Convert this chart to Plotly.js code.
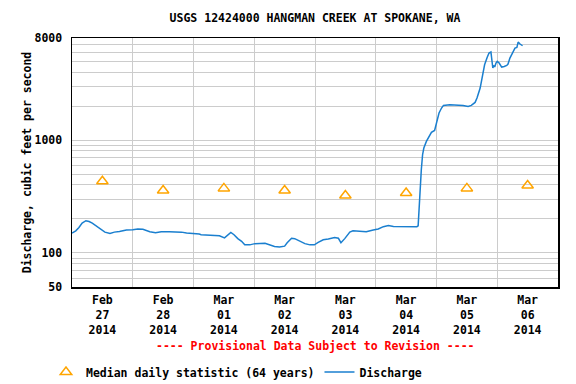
<!DOCTYPE html>
<html>
<head>
<meta charset="utf-8">
<script src="https://cdn.plot.ly/plotly-3.0.1.min.js"></script>
<style>html,body{margin:0;padding:0;background:#fff;}#chart{width:576px;height:384px;}</style>
</head>
<body>
<div id="chart"></div>
<script>
// Median daily statistic (64 years), plotted at noon of each day
var medianDates = ['2014-02-27 12:00','2014-02-28 12:00','2014-03-01 12:00','2014-03-02 12:00','2014-03-03 12:00','2014-03-04 12:00','2014-03-05 12:00','2014-03-06 12:00'];
var medianValues = [432, 358, 373, 358, 323, 340, 373, 396];

// Discharge (cubic feet per second)
var dischargeTimes = [
'2014-02-27 00:00','2014-02-27 01:30','2014-02-27 02:45','2014-02-27 04:00','2014-02-27 05:30','2014-02-27 06:45','2014-02-27 08:00','2014-02-27 09:30','2014-02-27 11:15','2014-02-27 13:00','2014-02-27 15:00','2014-02-27 16:45','2014-02-27 18:45','2014-02-27 21:30',
'2014-02-28 00:00','2014-02-28 02:00','2014-02-28 04:00','2014-02-28 06:45','2014-02-28 09:00','2014-02-28 11:15','2014-02-28 14:30','2014-02-28 19:15','2014-02-28 21:15','2014-02-28 23:45',
'2014-03-01 02:15','2014-03-01 03:00','2014-03-01 08:30','2014-03-01 10:15','2014-03-01 12:15','2014-03-01 13:45','2014-03-01 14:45','2014-03-01 16:00','2014-03-01 17:30','2014-03-01 19:00','2014-03-01 20:15','2014-03-01 22:15',
'2014-03-02 00:15','2014-03-02 04:15','2014-03-02 06:00','2014-03-02 08:00','2014-03-02 10:00','2014-03-02 12:00','2014-03-02 13:00','2014-03-02 14:45','2014-03-02 16:00','2014-03-02 18:00','2014-03-02 20:00','2014-03-02 22:00','2014-03-02 23:45',
'2014-03-03 01:15','2014-03-03 03:15','2014-03-03 05:15','2014-03-03 07:45','2014-03-03 09:15','2014-03-03 10:15','2014-03-03 11:45','2014-03-03 13:45','2014-03-03 15:00','2014-03-03 17:45','2014-03-03 20:15','2014-03-03 23:00',
'2014-03-04 01:00','2014-03-04 03:00','2014-03-04 05:00','2014-03-04 07:00','2014-03-04 10:45','2014-03-04 14:15','2014-03-04 16:15','2014-03-04 16:45','2014-03-04 17:15','2014-03-04 17:45','2014-03-04 18:00','2014-03-04 18:30','2014-03-04 19:00','2014-03-04 20:00','2014-03-04 21:00','2014-03-04 22:00','2014-03-04 23:15',
'2014-03-05 00:00','2014-03-05 01:00','2014-03-05 02:00','2014-03-05 02:45','2014-03-05 05:15','2014-03-05 08:00','2014-03-05 10:30','2014-03-05 12:30','2014-03-05 13:45','2014-03-05 15:15','2014-03-05 16:00','2014-03-05 17:15','2014-03-05 18:15','2014-03-05 19:00','2014-03-05 20:00','2014-03-05 20:45','2014-03-05 21:30','2014-03-05 21:45','2014-03-05 22:15','2014-03-05 22:45','2014-03-05 23:00','2014-03-05 23:30',
'2014-03-06 00:00','2014-03-06 00:45','2014-03-06 01:45','2014-03-06 02:45','2014-03-06 03:45','2014-03-06 04:15','2014-03-06 05:00','2014-03-06 06:00','2014-03-06 07:00','2014-03-06 07:45','2014-03-06 08:15','2014-03-06 09:00','2014-03-06 10:00'
];
var dischargeValues = [
150,157,168,184,193,190,184,174,163,153,149,153,155,160,
161,163,162,154,151,154,154,153,150,149,
147,145,143,142,136,147,152,145,134,127,118,118,
121,122,118,114,113,115,123,135,134,128,121,118,118,
124,131,133,137,135,123,134,153,157,155,154,160,
163,171,175,172,171,170,171,174,286,363,546,741,850,972,1076,1168,1216,
1414,1734,1920,2024,2052,2040,2024,1983,2024,2152,2354,2885,3784,4637,5383,5888,6010,5317,4339,4573,4426,4801,
4962,4801,4426,4480,4573,4706,5317,5888,6518,6600,7365,7073,6831
];

// Axis tick / grid values
var yGridValues = [50,60,70,80,90,100,200,300,400,500,600,700,800,900,1000,2000,3000,4000,5000,6000,7000,8000];
var yLabelValues = [50,100,1000,8000];
var xRange = ['2014-02-27 00:00','2014-03-07 00:00'];

var titleText = 'USGS 12424000 HANGMAN CREEK AT SPOKANE, WA';
var yTitleText = 'Discharge, cubic feet per second';
var provisionalText = '---- Provisional Data Subject to Revision ----';

var FONT = '"DejaVu Sans Mono", "Liberation Mono", monospace';

var yTickText = yGridValues.map(function(v){ return yLabelValues.indexOf(v) >= 0 ? String(v) : ''; });

var traces = [
  {
    type: 'scatter', mode: 'markers', name: 'Median daily statistic (64 years)',
    x: medianDates, y: medianValues,
    marker: {symbol: 'triangle-up-open', size: 10, color: '#FFA500', line: {width: 1.5, color: '#FFA500'}},
    hoverinfo: 'skip'
  },
  {
    type: 'scatter', mode: 'lines', name: 'Discharge',
    x: dischargeTimes, y: dischargeValues,
    line: {color: '#1a7fcf', width: 1.5},
    hoverinfo: 'skip'
  }
];

var layout = {
  width: 576, height: 384,
  margin: {l: 72, r: 18, t: 38, b: 97, autoexpand: false},
  paper_bgcolor: '#ffffff', plot_bgcolor: '#ffffff',
  font: {family: FONT, size: 11.5, color: '#000000', weight: 'bold'},
  title: {text: titleText, x: 0.5, xref: 'paper', xanchor: 'center', y: 1 - 18/384, yref: 'container', yanchor: 'middle',
          font: {family: FONT, size: 11.5, color: '#000', weight: 'bold'}},
  showlegend: true,
  legend: {orientation: 'h', x: 46/576, xanchor: 'left', xref: 'container', y: 1 - 372/384, yref: 'container', yanchor: 'middle',
           font: {family: FONT, size: 11.5, color: '#000', weight: 'bold'}, bgcolor: 'rgba(0,0,0,0)', traceorder: 'normal'},
  xaxis: {
    type: 'date', range: xRange, tick0: '2014-02-27', dtick: 86400000,
    ticklabelmode: 'period', tickformat: '%b<br>%d<br>%Y',
    showgrid: true, gridcolor: '#cccccc', gridwidth: 1,
    ticks: '', showline: true, linecolor: '#000', linewidth: 1.5, mirror: true,
    zeroline: false, ticklabelstandoff: 2, automargin: false,
    tickfont: {family: FONT, size: 11.5, color: '#000', weight: 'bold'}
  },
  yaxis: {
    type: 'log', range: [Math.log10(50), Math.log10(8000)],
    tickmode: 'array', tickvals: yGridValues, ticktext: yTickText,
    showgrid: true, gridcolor: '#cccccc', gridwidth: 1,
    ticks: '', showline: true, linecolor: '#000', linewidth: 1.5, mirror: true,
    zeroline: false, ticklabelstandoff: 6, automargin: false,
    tickfont: {family: FONT, size: 11.5, color: '#000', weight: 'bold'},
    title: {text: yTitleText, standoff: 0, font: {family: FONT, size: 11.5, color: '#000', weight: 'bold'}}
  },
  annotations: [
    {text: provisionalText, xref: 'paper', yref: 'paper', x: 0.5, y: (287-346)/249, xanchor: 'center', yanchor: 'middle',
     showarrow: false, font: {family: FONT, size: 11.5, color: '#FF0000', weight: 'bold'}}
  ]
};

Plotly.newPlot('chart', traces, layout, {staticPlot: true, displayModeBar: false});
</script>
</body>
</html>
